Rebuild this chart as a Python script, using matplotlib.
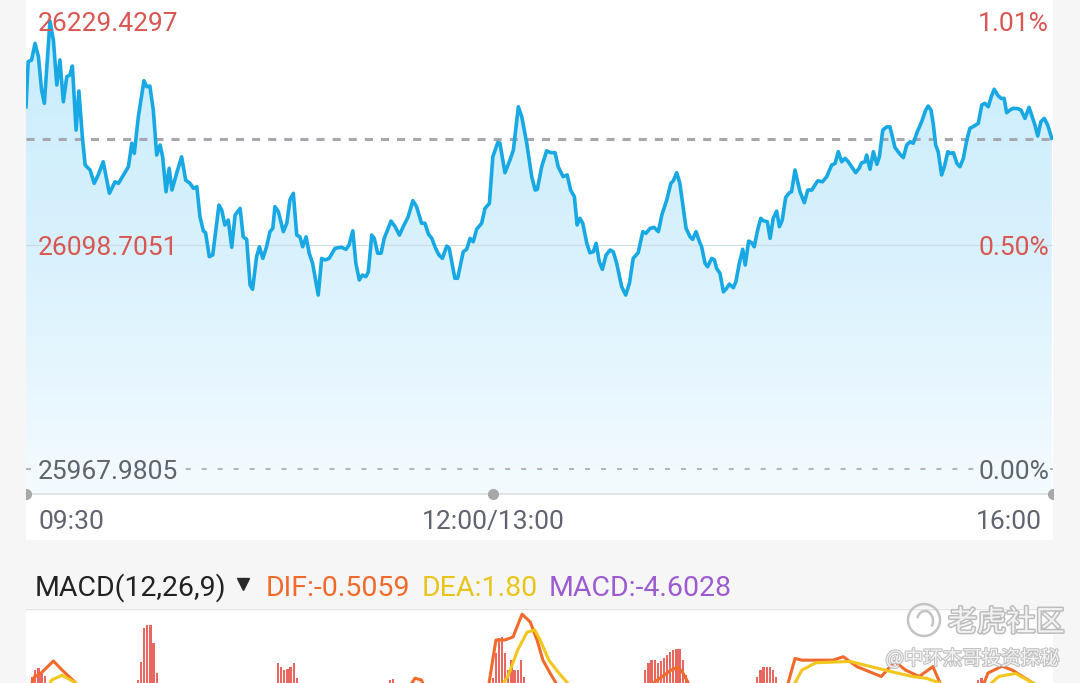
import matplotlib

matplotlib.use("Agg")
import matplotlib.patheffects as pe  # noqa: E402
import matplotlib.pyplot as plt  # noqa: E402
import numpy as np  # noqa: E402
from matplotlib import transforms  # noqa: E402
from matplotlib.colors import LinearSegmentedColormap  # noqa: E402
from matplotlib.patches import Arc, Circle, PathPatch, Rectangle  # noqa: E402

W, H, DPI = 1080, 683, 100
plt.rcParams["font.family"] = ["Roboto", "Noto Sans CJK SC", "DejaVu Sans"]
plt.rcParams["lines.scale_dashes"] = False

RED = "#d95652"
GREY_TXT = "#5f6470"
LINE = "#18a8e4"
nan = float("nan")

# intraday index level, minutes since 09:30 (lunch break removed, 330 = 16:00)
minutes = [
    0, 0.7, 1.8, 2.9, 4.0, 5.0, 5.9, 7.7, 8.8, 9.9,
    10.9, 12.0, 13.1, 14.1, 14.9, 16.1, 17.0, 18.1, 19.0, 20.6,
    21.9, 23.2, 24.8, 26.8, 28.6, 29.7, 31.3, 32.9, 34.0, 34.8,
    36.1, 37.9, 38.8, 39.8, 40.9, 42.0, 43.1, 43.9, 45.0, 46.0,
    46.9, 48.4, 50.0, 51.3, 52.7, 53.8, 54.9, 55.9, 57.0, 57.7,
    58.9, 60.0, 62.0, 62.9, 63.9, 65.0, 66.1, 67.2, 68.8, 69.8,
    70.9, 72.0, 72.8, 74.1, 75.0, 76.1, 77.3, 78.4, 79.3, 80.0,
    81.1, 82.7, 83.8, 84.8, 85.9, 87.0, 88.0, 88.9, 90.0, 91.0,
    92.1, 93.9, 95.0, 96.1, 97.4, 99.3, 101.4, 102.8, 103.8, 105.0,
    106.0, 107.1, 108.1, 109.2, 110.0, 111.1, 111.9, 113.0, 114.1, 115.1,
    117.3, 118.6, 120.0, 121.2, 122.8, 124.3, 125.5, 127.1, 128.2, 129.3,
    130.4, 131.6, 132.7, 133.8, 135.2, 136.0, 137.8, 138.7, 140.5, 141.6,
    142.7, 143.7, 144.8, 146.4, 147.5, 148.9, 150.0, 151.6, 152.3, 153.9,
    155.5, 156.6, 158.2, 159.3, 160.9, 162.5, 163.6, 164.3, 165.7, 167.3,
    168.6, 170.0, 171.0, 172.6, 173.9, 175.0, 176.2, 177.1, 178.0, 178.9,
    180.2, 181.2, 182.3, 183.2, 184.2, 185.2, 186.4, 187.7, 188.7, 189.8,
    191.4, 192.7, 193.9, 195.1, 196.7, 198.2, 199.2, 200.5, 201.8, 203.2,
    204.3, 205.9, 207.2, 208.0, 209.1, 210.1, 211.0, 212.1, 213.4, 214.2,
    215.3, 216.4, 217.1, 218.2, 219.0, 220.3, 221.2, 221.9, 223.0, 224.1,
    225.1, 226.0, 227.3, 228.1, 229.2, 230.3, 231.1, 232.2, 233.2, 234.0,
    235.1, 236.1, 236.9, 238.2, 239.1, 240.1, 241.2, 242.1, 243.0, 244.1,
    245.3, 246.0, 247.1, 248.7, 250.1, 251.2, 252.5, 254.4, 255.9, 257.3,
    258.9, 260.0, 261.0, 262.1, 263.2, 264.2, 265.3, 266.6, 267.7, 268.5,
    269.6, 270.1, 271.2, 272.3, 273.4, 274.2, 275.3, 276.6, 277.6, 278.4,
    279.2, 280.8, 281.9, 283.0, 284.1, 285.1, 286.4, 287.8, 289.1, 289.9,
    290.8, 291.5, 292.3, 293.1, 294.2, 295.1, 296.2, 296.9, 298.0, 299.1,
    300.1, 301.2, 302.3, 303.3, 304.7, 306.0, 307.1, 308.1, 309.2, 310.1,
    311.1, 312.2, 313.3, 314.3, 315.1, 316.2, 317.2, 318.7, 319.7, 321.0,
    322.3, 323.3, 324.2, 325.1, 326.1, 327.2, 328.3, 329.6,
]
price = [
    26179.4, 26205.7, 26206.7, 26216.4, 26208.6, 26189.2, 26181.4, 26229.4, 26218.3, 26192.1,
    26206.7, 26182.3, 26196.9, 26197.9, 26203.2, 26165.8, 26188.6, 26161.9, 26145.4, 26142.5,
    26134.7, 26139.6, 26147.3, 26128.9, 26135.6, 26134.7, 26139.6, 26144.4, 26158.1, 26152.2,
    26173.6, 26194.6, 26191.1, 26191.5, 26177.5, 26151.2, 26157.1, 26150.2, 26129.8, 26143.5,
    26130.8, 26140.5, 26150.2, 26136.6, 26134.7, 26131.8, 26132.7, 26115.2, 26106.9, 26105.9,
    26091.9, 26092.9, 26122.0, 26119.1, 26110.4, 26113.3, 26097.4, 26116.2, 26120.1, 26103.5,
    26102.0, 26075.4, 26072.9, 26091.9, 26097.7, 26090.9, 26097.7, 26106.5, 26108.4, 26121.1,
    26118.1, 26106.5, 26111.4, 26125.0, 26128.9, 26104.5, 26103.5, 26097.7, 26103.5, 26093.9,
    26088.0, 26069.5, 26090.9, 26090.0, 26090.9, 26096.8, 26097.4, 26096.2, 26098.7, 26107.0,
    26088.0, 26078.3, 26081.2, 26080.2, 26083.1, 26104.5, 26102.6, 26093.9, 26093.9, 26102.6,
    26112.7, 26109.4, 26104.5, 26109.4, 26115.2, 26124.6, 26121.1, 26111.4, 26111.4, 26105.1,
    26102.6, 26096.8, 26092.9, 26090.9, 26098.1, 26096.8, 26079.3, 26079.3, 26094.8, 26096.2,
    26102.6, 26100.6, 26107.9, 26111.4, 26120.1, 26123.0, 26150.2, 26158.6, 26158.1, 26140.9,
    26148.3, 26154.1, 26179.4, 26173.6, 26158.1, 26138.6, 26130.8, 26131.2, 26144.4, 26153.7,
    26152.6, 26152.6, 26144.4, 26138.6, 26139.6, 26130.8, 26126.9, 26110.4, 26114.3, 26111.4,
    26099.7, 26094.2, 26094.8, 26099.7, 26089.0, 26084.5, 26092.9, 26095.8, 26094.8, 26088.0,
    26074.4, 26069.5, 26076.4, 26090.9, 26094.2, 26106.5, 26105.5, 26108.4, 26109.0, 26106.5,
    26116.2, 26125.0, 26134.7, 26136.2, 26140.9, 26134.7, 26123.0, 26108.4, 26103.5, 26102.0,
    26106.5, 26100.6, 26097.7, 26088.0, 26086.0, 26090.9, 26090.0, 26085.1, 26082.2, 26071.4,
    26073.4, 26075.9, 26073.8, 26077.3, 26088.0, 26096.2, 26087.0, 26101.0, 26100.0, 26097.7,
    26107.5, 26114.3, 26112.9, 26112.3, 26102.6, 26114.3, 26118.5, 26109.4, 26113.3, 26126.5,
    26129.2, 26129.8, 26142.5, 26129.8, 26123.4, 26130.8, 26130.8, 26136.2, 26135.6, 26138.6,
    26145.4, 26146.4, 26153.2, 26147.3, 26149.3, 26147.3, 26144.4, 26140.9, 26143.5, 26146.7,
    26147.3, 26151.2, 26142.9, 26153.2, 26145.8, 26150.2, 26165.8, 26167.7, 26167.7, 26161.9,
    26155.7, 26151.8, 26149.7, 26157.1, 26159.0, 26158.1, 26164.8, 26170.7, 26177.5, 26179.8,
    26177.5, 26169.7, 26157.1, 26153.2, 26139.6, 26144.4, 26153.2, 26152.2, 26152.6, 26146.4,
    26144.4, 26149.3, 26160.0, 26166.8, 26168.2, 26169.7, 26180.4, 26181.4, 26179.4, 26184.9,
    26189.6, 26186.2, 26184.3, 26184.3, 26175.9, 26177.5, 26178.5, 26178.3, 26177.5, 26172.6,
    26179.1, 26173.6, 26168.7, 26162.3, 26170.7, 26172.6, 26168.7, 26161.0,
]

price_ticks = [26229.4297, 26098.7051, 25967.9805]
pct_labels = ["1.01%", "0.50%", "0.00%"]
ref_level = 26160.6
time_ticks = [0, 150, 330]
time_labels = ["09:30", "12:00/13:00", "16:00"]

# MACD panel (only the upper part is on screen)
bar_min = [2, 3, 4, 5, 6,
           36, 37, 38, 39, 40, 41, 42,
           81, 82, 83, 84, 85, 86, 87,
           117, 118,
           150, 151, 152, 153, 154, 155, 156, 157, 158, 159, 160,
           199, 200, 201, 202, 203, 204, 205, 206, 207, 208, 209, 210, 211, 212,
           235, 236, 237, 238, 239, 240, 241,
           306, 307]
bar_val = [4.8, 6.5, 7.0, 6.0, 5.1,
           4.2, 8.4, 16.3, 17.0, 17.0, 12.8, 5.8,
           8.1, 7.2, 6.5, 6.7, 7.2, 8.1, 4.6,
           4.2, 4.4,
           4.6, 10.5, 14.0, 14.2, 10.5, 6.5, 8.8, 6.5, 6.5, 8.8, 4.9,
           6.5, 8.2, 8.8, 8.8, 8.2, 8.6, 9.4, 10.0, 10.6, 11.2, 11.5, 11.5, 8.8, 5.3,
           4.8, 6.5, 7.2, 7.2, 7.2, 6.5, 4.8,
           4.2, 4.6]
dif_min = [1, 2.7, 5, 8.8, 11.6, 16, 17.5, nan,
           122, 125, 127, 129, nan,
           147.5, 148.8, 151.0, 153.9, 156.5, 159.4, 162.0, 164.2, 166.1, 168.4, 171.6, nan,
           200, 202, 205, 207.3, 209.5, 211, 212.8, 214, nan,
           244, 244.9, 247.1, 249.3, 259.3, 262.6, 267, 274.8, 279.2, 282.6, 287, 291.4, 293.7, 295, nan,
           307, 309.1, 313.6, 316.9, 323.5, 330]
dif_val = [1.9, 4.9, 5.9, 8.6, 6.5, 3.5, 1.3, nan,
           1.3, 4.6, 4.2, 1.3, nan,
           1.3, 3.5, 13.5, 13.5, 14.2, 19.5, 17.7, 13.5, 8.8, 5.8, 1.9, nan,
           1.9, 3.7, 5.3, 6.5, 7.2, 5.9, 3.5, 1.3, nan,
           1.3, 3.5, 9.2, 8.8, 8.8, 9.6, 7.3, 5.0, 8.5, 6.5, 5.0, 7.3, 3.5, 1.3, nan,
           1.9, 5.8, 7.4, 6.5, 3.5, -0.5]
dea_min = [6, 8.3, 11.6, 16, 17.5, nan,
           152, 155, 158, 161, 163.5, 165.2, 168, 171, 174, 176, nan,
           245, 247.1, 249.3, 253.8, 264.8, 275.9, 284.8, 289.2, 293.7, 296, nan,
           307, 312.5, 318, 323.5, 330]
dea_val = [1.3, 4.2, 5.3, 3.5, 1.3, nan,
           1.9, 5.3, 11.2, 15.3, 15.8, 13.5, 8.8, 6.0, 3.5, 1.3, nan,
           1.3, 3.5, 6.5, 8.2, 8.5, 6.5, 5.0, 4.6, 3.5, 1.3, nan,
           1.3, 5.0, 5.7, 3.5, 1.8]
header_text = ["MACD(12,26,9)", "DIF:-0.5059", "DEA:1.80", "MACD:-4.6028"]
header_colors = ["#222222", "#f06a2c", "#e9c51c", "#9d5bd2"]
header_x = [35, 266, 422, 549]


def box(x0, y0, x1, y1):
    """pixel box, origin top-left -> figure fraction rect"""
    return [x0 / W, 1 - y1 / H, (x1 - x0) / W, (y1 - y0) / H]


def pixel_axes(z):
    a = fig.add_axes([0, 0, 1, 1], zorder=z)
    a.set_xlim(0, W)
    a.set_ylim(H, 0)
    a.axis("off")
    a.patch.set_alpha(0)
    return a


fig = plt.figure(figsize=(W / DPI, H / DPI), dpi=DPI, facecolor="#f6f6f6")

# background panels + MACD header
bg = pixel_axes(0)
panel = bg.add_patch(Rectangle((26, 0), 1027, 540, facecolor="white", edgecolor="none"))
bg.add_patch(Rectangle((26, 608), 1027, 80, facecolor="white", edgecolor="none"))
bg.plot([26, 1053], [608.5, 608.5], color="#e2e2e2", lw=1)
for x, s, c in zip(header_x, header_text, header_colors):
    bg.text(x, 588, s, color=c, fontsize=20.5, ha="left", va="center")
bg.plot([243], [584], marker="v", ms=9, color="#2b2b2b", ls="none")

# price chart
YHI, YLO = 26241.7, 25953.4
ax = fig.add_axes(box(26, 0, 1053, 494), zorder=1)
ax.axis("off")
ax.patch.set_alpha(0)

area = ax.fill_between(minutes, price, YLO, color="none", lw=0)
clip = PathPatch(area.get_paths()[0], transform=ax.transData, facecolor="none", edgecolor="none")
ax.add_patch(clip)
cmap = LinearSegmentedColormap.from_list("fill", ["#c9ecfc", "#d8f1fd", "#f4fbff"])
grad = ax.imshow(np.linspace(0, 1, 256).reshape(-1, 1), cmap=cmap, aspect="auto",
                 extent=[0, 330, YLO, YHI], origin="upper", zorder=1)
grad.set_clip_path(clip)
ax.set_xlim(0, 330)
ax.set_ylim(YLO, YHI)

ax.axhline(price_ticks[1], color="#cddbe4", lw=0.8, zorder=2)
ax.axhline(ref_level, color="#a7a7ae", lw=2.2, dashes=(5.8, 5.8), zorder=3)
ax.axhline(price_ticks[2], color="#b2b2b8", lw=1.4, dashes=(3.6, 7.9), zorder=3)
ax.plot(minutes, price, color=LINE, lw=2.6, zorder=4, solid_joinstyle="round")

lt = transforms.blended_transform_factory(ax.transAxes, ax.transData)
left_t = transforms.offset_copy(lt, fig=fig, x=12, y=-3, units="dots")
right_t = transforms.offset_copy(lt, fig=fig, x=-4, y=-3, units="dots")
for v, pct, c in zip(price_ticks, pct_labels, [RED, RED, GREY_TXT]):
    bb = dict(facecolor="#f2faff", edgecolor="none", pad=1) if c == GREY_TXT else None
    ax.text(0, v, f"{v:.4f}", transform=left_t, ha="left", va="center",
            color=c, fontsize=19, bbox=bb, zorder=5)
    ax.text(1, v, pct, transform=right_t, ha="right", va="center",
            color=c, fontsize=19, bbox=bb, zorder=5)

# time axis
ax.axhline(YLO, color="#dedede", lw=1.2, clip_on=False, zorder=5)
dots = ax.plot(time_ticks, [YLO] * len(time_ticks), "o", ms=7, color="#a8a8a8", zorder=6)[0]
dots.set_clip_path(panel)
tt = transforms.blended_transform_factory(ax.transData, ax.transAxes)
for t, lab, ha, dx in zip(time_ticks, time_labels, ("left", "center", "right"), (12, 0, -11)):
    ax.text(t, 0, lab, transform=transforms.offset_copy(tt, fig=fig, x=dx, y=-28, units="dots"),
            ha=ha, va="center", color=GREY_TXT, fontsize=19)

# MACD panel
ax2 = fig.add_axes(box(26, 609, 1053, 683), zorder=1)
ax2.axis("off")
ax2.patch.set_alpha(0)
ax2.bar(bar_min, bar_val, width=0.72, color="#ea6660", zorder=2)
ax2.plot(dif_min, dif_val, color="#f26a2b", lw=2.2, zorder=3, solid_joinstyle="round")
ax2.plot(dea_min, dea_val, color="#f2c61c", lw=2.2, zorder=4, solid_joinstyle="round")
ax2.set_xlim(0, 330)
ax2.set_ylim(3.49, 20.7)

# watermark
top = pixel_axes(5)
halo = [pe.Stroke(linewidth=2.2, foreground="#bdbdbd"), pe.Normal()]
top.add_patch(Circle((924, 620), 16, facecolor="none", edgecolor="#c4c4c4", lw=1.8))
top.add_patch(Arc((925, 621), 16, 20, theta1=200, theta2=40, edgecolor="#c4c4c4", lw=1.8))
top.text(948, 623, "老虎社区", fontsize=21, color="#f3f3f3", ha="left", va="center",
         family=["Noto Sans CJK SC"], path_effects=halo)
top.text(1060, 659, "@中环杰哥投资探秘", fontsize=14, color="#f3f3f3", ha="right", va="center",
         family=["Noto Sans CJK SC"], path_effects=[pe.Stroke(linewidth=1.6, foreground="#c2c2c2"), pe.Normal()])

fig.savefig("out.png", dpi=DPI, facecolor=fig.get_facecolor())
